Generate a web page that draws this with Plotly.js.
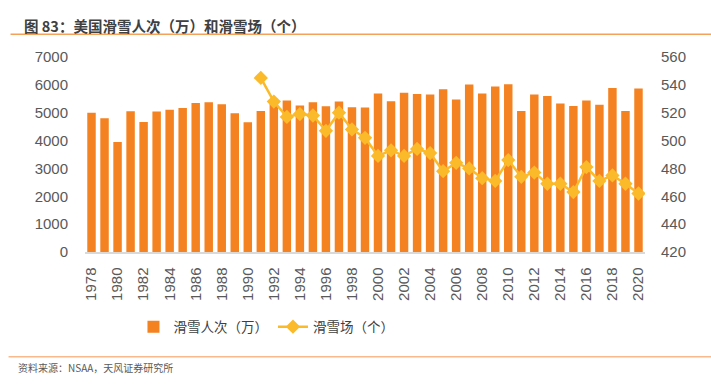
<!DOCTYPE html>
<html>
<head>
<meta charset="utf-8">
<script src="https://cdn.plot.ly/plotly-3.0.1.min.js"></script>
<style>html,body{margin:0;padding:0;background:#fff}#chart{width:711px;height:389px}</style>
</head>
<body>
<div id="chart"></div>
<script>
// ---- data ----
const years = [1978,1979,1980,1981,1982,1983,1984,1985,1986,1987,1988,1989,1990,1991,1992,1993,1994,1995,1996,1997,1998,1999,2000,2001,2002,2003,2004,2005,2006,2007,2008,2009,2010,2011,2012,2013,2014,2015,2016,2017,2018,2019,2020];
const skierVisits = [5000,4800,3950,5050,4670,5040,5110,5170,5350,5380,5300,4980,4660,5060,5460,5440,5260,5380,5230,5400,5200,5190,5690,5410,5720,5670,5650,5840,5470,6010,5690,5940,6020,5060,5650,5600,5330,5240,5440,5290,5890,5060,5870];
const resortYears = [1991,1992,1993,1994,1995,1996,1997,1998,1999,2000,2001,2002,2003,2004,2005,2006,2007,2008,2009,2010,2011,2012,2013,2014,2015,2016,2017,2018,2019,2020];
const resorts = [545,528,517,519,518,507,520,508,502,489,493,489,494,491,478,484,480,473,471,486,474,477,469,469,463,481,471,475,469,462];
const xTicks = [1978,1980,1982,1984,1986,1988,1990,1992,1994,1996,1998,2000,2002,2004,2006,2008,2010,2012,2014,2016,2018,2020];
const leftTicks = [0,1000,2000,3000,4000,5000,6000,7000];
const rightTicks = [420,440,460,480,500,520,540,560];
const seriesNames = ['滑雪人次（万）','滑雪场（个）'];
const titleText = '图 83：美国滑雪人次（万）和滑雪场（个）';
const sourceText = '资料来源：NSAA，天风证券研究所';

// ---- layout geometry ----
const W = 711, H = 389;
const L = 84.5, R = 644.8, T = 56.7, B = 252;
const px = x => (x - L) / (R - L);
const py = y => (B - y) / (B - T);

const numFont = 'Liberation Sans, Arial, sans-serif';
const cjkFont = 'Noto Sans CJK SC, sans-serif';
const tickColor = '#595959';

const traces = [
  {
    type: 'bar', x: years, y: skierVisits, name: seriesNames[0],
    marker: {color: '#F58220'}, yaxis: 'y'
  },
  {
    type: 'scatter', mode: 'lines+markers', x: resortYears, y: resorts, name: seriesNames[1],
    yaxis: 'y2',
    line: {color: '#FBBA2A', width: 2.5},
    marker: {symbol: 'diamond', size: 11, color: '#FBBA2A'}
  }
];

const layout = {
  width: W, height: H,
  margin: {l: L, r: W - R, t: T, b: H - B, pad: 0},
  paper_bgcolor: '#fff', plot_bgcolor: '#fff',
  showlegend: true,
  bargap: 0.35,
  xaxis: {
    type: 'linear', range: [1977.5, 2020.5],
    tickmode: 'array', tickvals: xTicks, ticktext: xTicks.map(String),
    tickangle: -90, showgrid: false, zeroline: false,
    showline: true, linecolor: '#d9d9d9', linewidth: 1.5,
    ticks: 'outside', ticklen: 8, tickcolor: 'rgba(0,0,0,0)',
    tickfont: {family: numFont, size: 15, color: tickColor}
  },
  yaxis: {
    range: [0, 7000], tickmode: 'array', tickvals: leftTicks,
    showgrid: false, zeroline: false, showline: false,
    ticks: 'outside', ticklen: 13, tickcolor: 'rgba(0,0,0,0)',
    tickfont: {family: numFont, size: 15, color: tickColor}
  },
  yaxis2: {
    range: [420, 560], tickmode: 'array', tickvals: rightTicks,
    overlaying: 'y', side: 'right',
    showgrid: false, zeroline: false, showline: false,
    ticks: 'outside', ticklen: 12, tickcolor: 'rgba(0,0,0,0)',
    tickfont: {family: numFont, size: 15, color: tickColor}
  },
  legend: {
    orientation: 'h', x: px(133), xanchor: 'left', y: py(327), yanchor: 'middle',
    font: {family: cjkFont, size: 13.5, color: '#404040'},
    itemwidth: 30, tracegroupgap: 0
  },
  annotations: [
    {xref: 'paper', yref: 'paper', x: px(21), y: py(25), xanchor: 'left', yanchor: 'middle',
     text: titleText, showarrow: false,
     font: {family: cjkFont, size: 14.5, color: '#404040', weight: 'bold'}},
    {xref: 'paper', yref: 'paper', x: px(15), y: py(368), xanchor: 'left', yanchor: 'middle',
     text: sourceText, showarrow: false,
     font: {family: cjkFont, size: 10, color: '#595959'}}
  ],
  shapes: [
    {type: 'line', xref: 'paper', yref: 'paper', x0: px(10), x1: px(711), y0: py(34), y1: py(34),
     line: {color: '#F5A15A', width: 1.5}},
    {type: 'line', xref: 'paper', yref: 'paper', x0: px(8), x1: px(711), y0: py(357), y1: py(357),
     line: {color: '#F9B98A', width: 1.5}}
  ]
};

Plotly.newPlot('chart', traces, layout, {staticPlot: true, displayModeBar: false});
</script>
</body>
</html>
